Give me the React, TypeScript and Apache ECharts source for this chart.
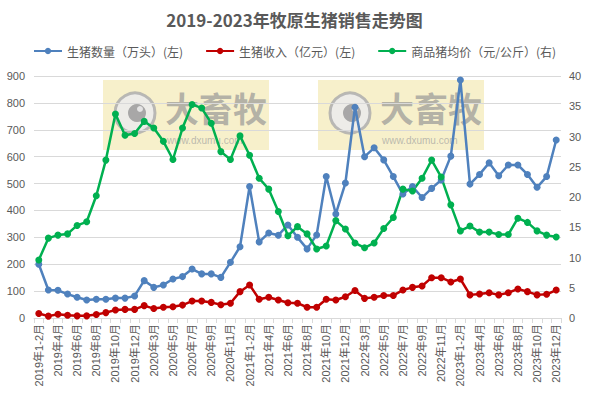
import React, { useEffect, useRef } from "react";
import * as echarts from "echarts";

const years = ["2019", "2020", "2021", "2022", "2023"];
const months = ["1-2月", "3月", "4月", "5月", "6月", "7月", "8月", "9月", "10月", "11月", "12月"];
const categories: string[] = [];
years.forEach((y) => months.forEach((m) => categories.push(`${y}年${m}`)));

const pigCount = [
  200, 104, 103, 89, 77, 67, 70, 70, 74, 74, 82,
  139, 114, 123, 145, 154, 182, 164, 164, 151, 207, 265,
  489, 283, 316, 308, 346, 300, 257, 309, 526, 387, 502,
  784, 600, 633, 588, 526, 461, 489, 448, 482, 513, 602,
  885, 498, 534, 577, 529, 569, 569, 534, 486, 526, 662,
];
const pigRevenue = [
  17, 7, 14, 10, 8, 8, 13, 20, 30, 32, 32,
  46, 35, 40, 42, 48, 63, 63, 58, 49, 55, 98,
  123, 70, 77, 67, 57, 55, 40, 40, 70, 67, 79,
  102, 73, 77, 84, 84, 104, 114, 119, 150, 150, 134,
  145, 86, 89, 94, 86, 94, 108, 98, 86, 88, 104,
];
const pigPrice = [
  9.6, 13.2, 13.7, 13.9, 15.3, 15.9, 20.2, 26.1, 33.7, 30.2, 30.5,
  32.5, 31.4, 29.2, 26.2, 31.4, 35.3, 34.7, 32.2, 27.5, 26.2, 30.1,
  26.9, 23.1, 21.3, 17.6, 13.6, 15.1, 13.9, 11.4, 11.9, 16.1, 14.7,
  12.4, 11.6, 12.4, 14.8, 16.6, 21.3, 21.0, 23.1, 26.1, 23.3, 18.7,
  14.4, 15.2, 14.2, 14.2, 13.8, 13.8, 16.5, 15.8, 14.4, 13.7, 13.4,
];

const leftTicks = { min: 0, max: 900, interval: 100 };
const rightTicks = { min: 0, max: 40, interval: 5 };

const BLUE = "#4F81BD";
const RED = "#C00000";
const GREEN = "#00B050";
const TXT = "#595959";
const FONT = "'Liberation Sans', 'Noto Sans CJK SC', sans-serif";

function watermark(x: number) {
  return {
    type: "group",
    x,
    y: 80,
    z: -10,
    silent: true,
    children: [
      { type: "rect", shape: { x: 0, y: 0, width: 166, height: 70 }, style: { fill: "rgba(240,228,160,0.55)" } },
      { type: "circle", shape: { cx: 32, cy: 33, r: 20 }, style: { fill: "rgba(235,235,235,0.9)", stroke: "rgba(170,170,170,0.8)", lineWidth: 3 } },
      { type: "circle", shape: { cx: 34, cy: 33, r: 9 }, style: { fill: "rgba(150,150,150,0.8)" } },
      { type: "circle", shape: { cx: 37, cy: 29, r: 3 }, style: { fill: "rgba(235,235,235,0.9)" } },
      {
        type: "text",
        x: 62,
        y: 10,
        style: { text: "大畜牧", fill: "rgba(150,150,150,0.7)", font: "bold 34px 'Noto Sans CJK SC'" },
      },
      {
        type: "text",
        x: 64,
        y: 55,
        style: { text: "www.dxumu.com", fill: "rgba(160,160,160,0.7)", font: "10px 'Liberation Sans'" },
      },
    ],
  };
}

export default function App() {
  const ref = useRef<HTMLDivElement>(null);
  useEffect(() => {
    if (!ref.current) return;
    const chart = echarts.init(ref.current, undefined, { renderer: "svg" });
    const lineSeries = (name: string, data: number[], color: string, yAxisIndex: number) => ({
      name,
      type: "line",
      data,
      yAxisIndex,
      symbol: "circle",
      symbolSize: 7,
      showSymbol: true,
      showAllSymbol: true,
      lineStyle: { color, width: 2.5 },
      itemStyle: { color },
      z: 5,
    });
    chart.setOption({
      animation: false,
      backgroundColor: "#ffffff",
      textStyle: { fontFamily: FONT },
      title: {
        text: "2019-2023年牧原生猪销售走势图",
        left: "center",
        top: 6,
        textStyle: { fontSize: 17, fontWeight: "bold", color: TXT, fontFamily: "'Noto Sans CJK SC', sans-serif" },
      },
      legend: {
        top: 40,
        left: "center",
        itemGap: 22,
        itemWidth: 28,
        itemHeight: 8,
        textStyle: { fontSize: 12, color: TXT, fontFamily: "'Noto Sans CJK SC', sans-serif" },
        data: ["生猪数量（万头）(左)", "生猪收入（亿元）(左)", "商品猪均价（元/公斤）(右)"],
      },
      graphic: [watermark(103), watermark(318)],
      grid: { left: 34, right: 28, top: 76, bottom: 79 },
      xAxis: {
        type: "category",
        data: categories,
        boundaryGap: true,
        axisLine: { lineStyle: { color: "#d9d9d9" } },
        axisTick: { show: true, interval: 0, length: 5, lineStyle: { color: "#d9d9d9" } },
        axisLabel: { interval: 1, rotate: 90, fontSize: 11, color: TXT, margin: 6, fontFamily: FONT },
      },
      yAxis: [
        {
          type: "value",
          min: leftTicks.min,
          max: leftTicks.max,
          interval: leftTicks.interval,
          axisLine: { show: false },
          axisTick: { show: false },
          axisLabel: { fontSize: 11, color: TXT, margin: 9, fontFamily: FONT },
          splitLine: { lineStyle: { color: "#d9d9d9" } },
        },
        {
          type: "value",
          min: rightTicks.min,
          max: rightTicks.max,
          interval: rightTicks.interval,
          axisLine: { show: false },
          axisTick: { show: false },
          axisLabel: { fontSize: 11, color: TXT, margin: 8, fontFamily: FONT },
          splitLine: { show: false },
        },
      ],
      series: [
        lineSeries("生猪数量（万头）(左)", pigCount, BLUE, 0),
        lineSeries("生猪收入（亿元）(左)", pigRevenue, RED, 0),
        lineSeries("商品猪均价（元/公斤）(右)", pigPrice, GREEN, 1),
      ],
    });
    return () => chart.dispose();
  }, []);
  return <div ref={ref} style={{ position: "fixed", left: 0, top: 0, width: 589, height: 397 }} />;
}
